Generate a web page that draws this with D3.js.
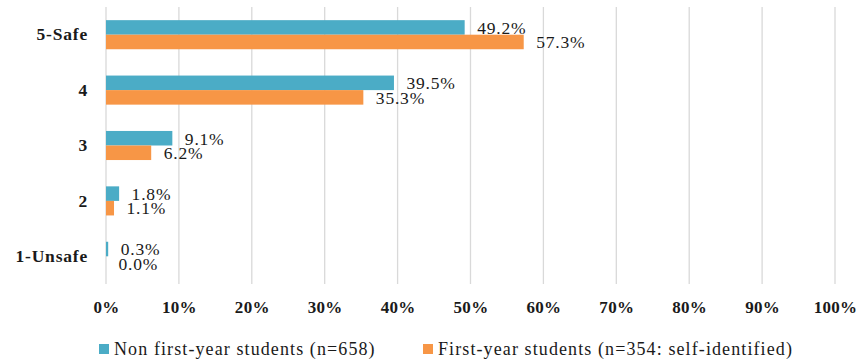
<!DOCTYPE html>
<html>
<head>
<meta charset="utf-8">
<script src="https://cdn.jsdelivr.net/npm/d3@7"></script>
<style>
  html, body { margin: 0; padding: 0; background: #fff; }
  svg { display: block; }
  text { font-family: "Liberation Serif", "Times New Roman", serif; fill: #1a1a1a; }
</style>
</head>
<body>
<svg id="chart" width="859" height="362"></svg>
<script>
// Perceived safety ratings, top to bottom
const categories = ["5-Safe", "4", "3", "2", "1-Unsafe"];
const seriesNames = ["Non first-year students (n=658)", "First-year students (n=354: self-identified)"];
const nonFirstYear = [49.2, 39.5, 9.1, 1.8, 0.3];
const firstYear = [57.3, 35.3, 6.2, 1.1, 0.0];
const xTicks = [0, 10, 20, 30, 40, 50, 60, 70, 80, 90, 100];
const colors = ["#4BACC6", "#F79646"];

const seriesValues = [nonFirstYear, firstYear];

const svg = d3.select("#chart");
const plot = { left: 106, right: 835, top: 7, bottom: 284 };

const x = d3.scaleLinear().domain([0, 100]).range([plot.left, plot.right]);
const y = d3.scaleBand().domain(categories).range([plot.top, plot.bottom])
  .paddingInner(0.475).paddingOuter(0.2375);
const ySeries = d3.scaleBand().domain(d3.range(seriesNames.length)).range([0, y.bandwidth()]);

// Vertical gridlines
svg.append("g").selectAll("line").data(xTicks).join("line")
  .attr("x1", d => x(d)).attr("x2", d => x(d))
  .attr("y1", plot.top).attr("y2", plot.bottom)
  .attr("stroke", "#d9d9d9").attr("stroke-width", 1.3);

// X axis labels
const xAxis = d3.axisBottom(x).tickValues(xTicks).tickFormat(d => d + "%").tickSize(0).tickPadding(0);
const gx = svg.append("g").attr("transform", `translate(0,${plot.bottom + 17})`).call(xAxis);
gx.select(".domain").remove();
gx.selectAll("text")
  .attr("font-weight", "bold").attr("font-size", 17).attr("fill", "#1a1a1a")
  .attr("letter-spacing", 0.3);

// Category labels
const yAxis = d3.axisLeft(y).tickSize(0).tickPadding(0);
const gy = svg.append("g").attr("transform", `translate(88,0)`).call(yAxis);
gy.select(".domain").remove();
gy.selectAll("text")
  .attr("font-weight", "bold").attr("font-size", 17.5).attr("fill", "#1a1a1a")
  .attr("letter-spacing", 0.8);

// Bars and value labels
const rows = categories.map((c, i) => ({ cat: c, vals: seriesValues.map(s => s[i]) }));
const groups = svg.append("g").selectAll("g").data(rows).join("g")
  .attr("transform", d => `translate(0,${y(d.cat)})`);

groups.selectAll("rect").data(d => d.vals.map((v, s) => ({ v, s }))).join("rect")
  .attr("x", x(0))
  .attr("y", d => ySeries(d.s))
  .attr("width", d => x(d.v) - x(0))
  .attr("height", ySeries.bandwidth())
  .attr("fill", d => colors[d.s]);

groups.selectAll("text.val").data(d => d.vals.map((v, s) => ({ v, s }))).join("text")
  .attr("class", "val")
  .attr("x", d => x(d.v) + 12.5)
  .attr("y", d => ySeries(d.s) + ySeries.bandwidth() - 1)
  .attr("font-size", 17.5)
  .attr("letter-spacing", 0.8)
  .attr("fill", "#333")
  .text(d => d.v.toFixed(1) + "%");

// Legend
const legendX = [99, 423];
const legend = svg.append("g").selectAll("g").data(seriesNames).join("g")
  .attr("transform", (d, i) => `translate(${legendX[i]},349)`);
legend.append("rect").attr("x", 0).attr("y", -5).attr("width", 10).attr("height", 10)
  .attr("fill", (d, i) => colors[i]);
legend.append("text").attr("x", 15).attr("y", 0).attr("dy", "0.35em")
  .attr("font-size", 18).attr("letter-spacing", 1.1).attr("fill", "#333")
  .text(d => d);
</script>
</body>
</html>
